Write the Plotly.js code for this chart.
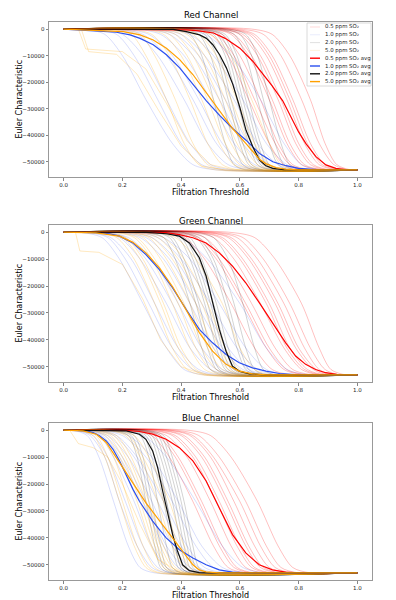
<!DOCTYPE html>
<html>
<head>
<meta charset="utf-8">
<script src="https://cdn.plot.ly/plotly-3.0.1.min.js"></script>
<style>
  html, body { margin: 0; padding: 0; background: #fff; }
  #chart { width: 396px; height: 600px; }
</style>
</head>
<body>
<div id="chart"></div>
<script>
// Euler characteristic curves per colour channel and SO2 concentration

const channelTitles = ['Red Channel', 'Green Channel', 'Blue Channel'];
const concentrations = ['0.5', '1.0', '2.0', '5.0'];

// individual curves: x where each curve reaches these Euler levels
const eulerLevels = [0, -2000, -10000, -26500, -43000, -51000, -53000];
const xTicks = [0, 0.2, 0.4, 0.6, 0.8, 1.0];
const yTicks = [0, -10000, -20000, -30000, -40000, -50000];

// ---- Red channel ----
const red05Faint = [
  [0.42, 0.50, 0.56, 0.63, 0.70, 0.75, 0.82],
  [0.44, 0.52, 0.58, 0.65, 0.72, 0.77, 0.84],
  [0.46, 0.54, 0.60, 0.67, 0.73, 0.78, 0.85],
  [0.50, 0.57, 0.63, 0.70, 0.76, 0.81, 0.88],
  [0.50, 0.58, 0.64, 0.71, 0.77, 0.82, 0.89],
  [0.52, 0.60, 0.66, 0.73, 0.79, 0.84, 0.90],
  [0.53, 0.61, 0.67, 0.74, 0.80, 0.85, 0.91],
  [0.55, 0.63, 0.69, 0.76, 0.82, 0.87, 0.93],
  [0.56, 0.64, 0.70, 0.77, 0.83, 0.88, 0.94],
  [0.58, 0.65, 0.71, 0.78, 0.84, 0.89, 0.95],
  [0.60, 0.68, 0.74, 0.81, 0.87, 0.92, 0.97],
  [0.64, 0.71, 0.77, 0.84, 0.89, 0.93, 0.98]
];
const red10Faint = [
  [0.07, 0.14, 0.20, 0.28, 0.37, 0.44, 0.52],
  [0.10, 0.18, 0.24, 0.32, 0.40, 0.47, 0.55],
  [0.12, 0.20, 0.27, 0.35, 0.43, 0.50, 0.58],
  [0.16, 0.25, 0.32, 0.41, 0.49, 0.56, 0.64],
  [0.18, 0.27, 0.35, 0.44, 0.52, 0.59, 0.66],
  [0.20, 0.29, 0.37, 0.46, 0.54, 0.61, 0.68],
  [0.24, 0.33, 0.41, 0.50, 0.58, 0.65, 0.72],
  [0.26, 0.36, 0.44, 0.53, 0.61, 0.68, 0.75],
  [0.28, 0.38, 0.46, 0.55, 0.63, 0.70, 0.77],
  [0.30, 0.40, 0.48, 0.58, 0.66, 0.73, 0.80],
  [0.33, 0.43, 0.51, 0.61, 0.69, 0.76, 0.83],
  [0.38, 0.48, 0.57, 0.67, 0.75, 0.81, 0.88]
];
const red20Faint = [
  [0.36, 0.43, 0.47, 0.51, 0.55, 0.58, 0.62],
  [0.40, 0.46, 0.50, 0.54, 0.58, 0.61, 0.65],
  [0.42, 0.48, 0.52, 0.56, 0.60, 0.63, 0.67],
  [0.43, 0.49, 0.53, 0.57, 0.61, 0.64, 0.68],
  [0.45, 0.51, 0.55, 0.59, 0.63, 0.66, 0.70],
  [0.46, 0.52, 0.56, 0.60, 0.64, 0.67, 0.71],
  [0.47, 0.53, 0.57, 0.61, 0.65, 0.68, 0.72],
  [0.48, 0.54, 0.58, 0.62, 0.66, 0.69, 0.73],
  [0.49, 0.55, 0.59, 0.63, 0.67, 0.70, 0.74],
  [0.52, 0.58, 0.62, 0.66, 0.70, 0.73, 0.77],
  [0.54, 0.60, 0.64, 0.68, 0.72, 0.75, 0.79],
  [0.56, 0.62, 0.66, 0.70, 0.74, 0.77, 0.81]
];
const red50Faint = [
  [0.15, 0.23, 0.28, 0.35, 0.41, 0.46, 0.52],
  [0.18, 0.26, 0.31, 0.38, 0.44, 0.49, 0.55],
  [0.22, 0.30, 0.36, 0.43, 0.49, 0.54, 0.60],
  [0.26, 0.34, 0.40, 0.47, 0.53, 0.58, 0.64],
  [0.28, 0.36, 0.42, 0.49, 0.55, 0.60, 0.66],
  [0.30, 0.38, 0.44, 0.51, 0.57, 0.62, 0.68],
  [0.32, 0.40, 0.46, 0.53, 0.59, 0.64, 0.70],
  [0.34, 0.42, 0.48, 0.55, 0.61, 0.66, 0.71],
  [0.36, 0.44, 0.50, 0.57, 0.63, 0.68, 0.73],
  [0.38, 0.46, 0.52, 0.59, 0.65, 0.70, 0.75],
  [0.42, 0.50, 0.57, 0.64, 0.70, 0.74, 0.79]
];
const red50OddX = [[0, 0.05, 0.075, 0.2, 0.28, 0.35, 0.42, 0.5, 0.58, 1.0],
                   [0, 0.06, 0.085, 0.18, 0.25, 0.32, 0.4, 0.47, 0.55, 1.0]];
const red50OddY = [[0, 0, -7500, -8500, -15000, -28000, -42000, -51000, -53000, -53000],
                   [0, 0, -8500, -9500, -17000, -30000, -44000, -51500, -53000, -53000]];

const red05AvgX = [0, 0.42, 0.46, 0.51, 0.55, 0.6, 0.644, 0.667, 0.71, 0.746, 0.768, 0.8, 0.825, 0.859, 0.893, 0.927, 0.96, 1.0];
const red05AvgY = [0, -300, -700, -1500, -3500, -7200, -12100, -15200, -21400, -27000, -31900, -38700, -43100, -48000, -51100, -52400, -52900, -53000];
const red10AvgX = [0, 0.124, 0.18, 0.226, 0.26, 0.305, 0.35, 0.395, 0.44, 0.486, 0.531, 0.576, 0.621, 0.667, 0.712, 0.757, 0.8, 0.86, 1.0];
const red10AvgY = [0, -700, -1200, -2200, -3500, -5900, -9650, -14600, -20800, -27000, -32500, -37500, -41800, -46800, -49900, -51400, -52400, -52900, -53000];
const red20AvgX = [0, 0.373, 0.418, 0.463, 0.486, 0.508, 0.531, 0.554, 0.576, 0.6, 0.621, 0.644, 0.667, 0.689, 0.712, 0.75, 1.0];
const red20AvgY = [0, -100, -1000, -2200, -3500, -5900, -9650, -14600, -20800, -29500, -38100, -44300, -49300, -51400, -52400, -52900, -53000];
const red50AvgX = [0, 0.1, 0.203, 0.26, 0.305, 0.35, 0.395, 0.44, 0.486, 0.531, 0.576, 0.621, 0.644, 0.667, 0.69, 0.723, 0.757, 0.8, 1.0];
const red50AvgY = [0, -500, -1000, -2200, -4100, -7200, -11500, -17100, -23900, -30700, -37500, -43100, -46200, -49000, -50700, -52100, -52700, -53000, -53000];

// ---- Green channel ----
const green05Faint = [
  [0.33, 0.41, 0.48, 0.57, 0.65, 0.71, 0.78],
  [0.36, 0.45, 0.52, 0.61, 0.69, 0.75, 0.82],
  [0.38, 0.46, 0.53, 0.62, 0.70, 0.76, 0.83],
  [0.40, 0.48, 0.55, 0.64, 0.72, 0.78, 0.85],
  [0.42, 0.51, 0.58, 0.67, 0.75, 0.81, 0.87],
  [0.44, 0.53, 0.60, 0.69, 0.76, 0.82, 0.88],
  [0.45, 0.54, 0.61, 0.70, 0.77, 0.83, 0.89],
  [0.47, 0.56, 0.63, 0.72, 0.79, 0.85, 0.90],
  [0.48, 0.57, 0.64, 0.73, 0.80, 0.86, 0.91],
  [0.50, 0.59, 0.66, 0.75, 0.82, 0.87, 0.92],
  [0.52, 0.61, 0.68, 0.77, 0.84, 0.89, 0.94],
  [0.56, 0.65, 0.72, 0.81, 0.87, 0.91, 0.96]
];
const green10Faint = [
  [0.05, 0.13, 0.19, 0.27, 0.35, 0.41, 0.48],
  [0.07, 0.15, 0.21, 0.29, 0.37, 0.44, 0.51],
  [0.08, 0.16, 0.23, 0.31, 0.39, 0.46, 0.53],
  [0.11, 0.19, 0.26, 0.35, 0.43, 0.50, 0.57],
  [0.12, 0.21, 0.28, 0.37, 0.45, 0.52, 0.60],
  [0.14, 0.22, 0.30, 0.39, 0.47, 0.54, 0.62],
  [0.17, 0.26, 0.34, 0.43, 0.51, 0.58, 0.66],
  [0.19, 0.28, 0.36, 0.45, 0.54, 0.61, 0.69],
  [0.21, 0.30, 0.38, 0.47, 0.56, 0.63, 0.71],
  [0.23, 0.32, 0.40, 0.50, 0.59, 0.66, 0.74],
  [0.25, 0.34, 0.43, 0.53, 0.62, 0.69, 0.77],
  [0.30, 0.40, 0.49, 0.60, 0.69, 0.76, 0.84]
];
const green20Faint = [
  [0.28, 0.34, 0.38, 0.43, 0.47, 0.50, 0.54],
  [0.30, 0.36, 0.40, 0.45, 0.49, 0.52, 0.56],
  [0.31, 0.37, 0.41, 0.46, 0.50, 0.53, 0.57],
  [0.33, 0.39, 0.43, 0.48, 0.52, 0.55, 0.59],
  [0.34, 0.40, 0.44, 0.49, 0.53, 0.56, 0.60],
  [0.35, 0.41, 0.45, 0.50, 0.54, 0.57, 0.61],
  [0.36, 0.42, 0.46, 0.51, 0.55, 0.58, 0.62],
  [0.37, 0.43, 0.47, 0.52, 0.56, 0.59, 0.63],
  [0.39, 0.45, 0.50, 0.55, 0.59, 0.62, 0.66],
  [0.40, 0.46, 0.51, 0.56, 0.60, 0.63, 0.67],
  [0.42, 0.48, 0.53, 0.58, 0.62, 0.65, 0.69],
  [0.45, 0.51, 0.56, 0.61, 0.65, 0.68, 0.72]
];
const green50Faint = [
  [0.10, 0.18, 0.24, 0.31, 0.37, 0.42, 0.47],
  [0.12, 0.20, 0.26, 0.33, 0.39, 0.44, 0.49],
  [0.13, 0.21, 0.27, 0.34, 0.40, 0.45, 0.50],
  [0.16, 0.24, 0.30, 0.37, 0.43, 0.48, 0.54],
  [0.17, 0.25, 0.31, 0.39, 0.45, 0.50, 0.56],
  [0.19, 0.27, 0.33, 0.41, 0.47, 0.52, 0.58],
  [0.21, 0.29, 0.35, 0.43, 0.49, 0.54, 0.60],
  [0.22, 0.30, 0.37, 0.45, 0.51, 0.56, 0.62],
  [0.24, 0.32, 0.39, 0.47, 0.53, 0.58, 0.64],
  [0.26, 0.34, 0.41, 0.49, 0.55, 0.60, 0.66],
  [0.30, 0.38, 0.45, 0.54, 0.60, 0.65, 0.71]
];
const green50OddX = [[0, 0.04, 0.055, 0.12, 0.2, 0.27, 0.33, 0.4, 0.48, 1.0]];
const green50OddY = [[0, 0, -7000, -7500, -12000, -25000, -40000, -50000, -53000, -53000]];

const green05AvgX = [0, 0.349, 0.394, 0.44, 0.485, 0.53, 0.575, 0.62, 0.666, 0.711, 0.756, 0.79, 0.824, 0.858, 0.892, 0.93, 1.0];
const green05AvgY = [0, -200, -900, -2100, -4000, -7700, -12600, -18800, -26200, -33700, -41100, -46000, -49100, -51000, -52200, -52800, -53000];
const green10AvgX = [0, 0.11, 0.156, 0.19, 0.235, 0.28, 0.326, 0.371, 0.417, 0.462, 0.507, 0.553, 0.598, 0.643, 0.689, 0.735, 0.8, 1.0];
const green10AvgY = [0, -200, -600, -1500, -4000, -8300, -13900, -20700, -28700, -36100, -41100, -45400, -48500, -50400, -51600, -52500, -53000, -53000];
const green20AvgX = [0, 0.28, 0.35, 0.394, 0.428, 0.462, 0.485, 0.507, 0.53, 0.553, 0.575, 0.598, 0.632, 0.689, 1.0];
const green20AvgY = [0, -100, -600, -1500, -4000, -9500, -16300, -26200, -36100, -44200, -49800, -51600, -52600, -53000, -53000];
const green50AvgX = [0, 0.11, 0.19, 0.235, 0.28, 0.326, 0.371, 0.417, 0.462, 0.507, 0.553, 0.598, 0.643, 0.689, 1.0];
const green50AvgY = [0, -300, -1500, -3700, -7700, -13300, -20300, -28700, -37300, -44200, -49100, -51600, -52600, -53000, -53000];

// ---- Blue channel ----
const blue05Faint = [
  [0.22, 0.30, 0.36, 0.44, 0.51, 0.56, 0.62],
  [0.24, 0.32, 0.38, 0.46, 0.53, 0.58, 0.64],
  [0.25, 0.33, 0.39, 0.47, 0.54, 0.59, 0.65],
  [0.27, 0.35, 0.42, 0.50, 0.57, 0.62, 0.68],
  [0.29, 0.37, 0.44, 0.52, 0.59, 0.64, 0.70],
  [0.30, 0.38, 0.45, 0.53, 0.60, 0.65, 0.71],
  [0.32, 0.40, 0.47, 0.55, 0.62, 0.67, 0.73],
  [0.33, 0.41, 0.48, 0.56, 0.63, 0.68, 0.74],
  [0.35, 0.43, 0.50, 0.58, 0.65, 0.70, 0.76],
  [0.36, 0.44, 0.51, 0.60, 0.67, 0.72, 0.78],
  [0.38, 0.46, 0.53, 0.62, 0.69, 0.74, 0.80],
  [0.42, 0.50, 0.57, 0.66, 0.73, 0.78, 0.84]
];
const blue10Faint = [
  [0.03, 0.08, 0.12, 0.17, 0.22, 0.26, 0.31],
  [0.04, 0.09, 0.14, 0.19, 0.25, 0.30, 0.35],
  [0.04, 0.10, 0.15, 0.21, 0.27, 0.32, 0.37],
  [0.05, 0.12, 0.17, 0.24, 0.30, 0.35, 0.41],
  [0.06, 0.13, 0.19, 0.27, 0.34, 0.39, 0.45],
  [0.07, 0.14, 0.20, 0.28, 0.35, 0.41, 0.47],
  [0.08, 0.15, 0.22, 0.30, 0.37, 0.43, 0.49],
  [0.09, 0.17, 0.24, 0.32, 0.40, 0.46, 0.52],
  [0.10, 0.18, 0.25, 0.34, 0.42, 0.48, 0.55],
  [0.12, 0.20, 0.28, 0.37, 0.45, 0.51, 0.58],
  [0.13, 0.22, 0.30, 0.39, 0.47, 0.54, 0.61],
  [0.17, 0.27, 0.35, 0.45, 0.54, 0.61, 0.68]
];
const blue20Faint = [
  [0.16, 0.22, 0.25, 0.28, 0.31, 0.33, 0.36],
  [0.17, 0.23, 0.26, 0.29, 0.32, 0.34, 0.37],
  [0.18, 0.24, 0.27, 0.30, 0.33, 0.35, 0.38],
  [0.20, 0.26, 0.29, 0.32, 0.35, 0.37, 0.40],
  [0.21, 0.27, 0.30, 0.34, 0.37, 0.39, 0.42],
  [0.22, 0.28, 0.31, 0.35, 0.38, 0.40, 0.43],
  [0.23, 0.29, 0.32, 0.35, 0.38, 0.40, 0.43],
  [0.24, 0.30, 0.33, 0.37, 0.40, 0.42, 0.45],
  [0.25, 0.31, 0.34, 0.38, 0.41, 0.43, 0.46],
  [0.26, 0.32, 0.35, 0.39, 0.42, 0.44, 0.47],
  [0.27, 0.33, 0.36, 0.40, 0.43, 0.45, 0.48],
  [0.28, 0.34, 0.37, 0.41, 0.44, 0.46, 0.49]
];
const blue50Faint = [
  [0.04, 0.10, 0.14, 0.19, 0.24, 0.28, 0.32],
  [0.05, 0.11, 0.15, 0.20, 0.25, 0.29, 0.33],
  [0.06, 0.12, 0.17, 0.22, 0.27, 0.31, 0.35],
  [0.08, 0.14, 0.19, 0.25, 0.30, 0.34, 0.38],
  [0.09, 0.15, 0.20, 0.26, 0.31, 0.35, 0.39],
  [0.10, 0.16, 0.21, 0.27, 0.32, 0.36, 0.40],
  [0.11, 0.17, 0.22, 0.28, 0.33, 0.37, 0.41],
  [0.12, 0.18, 0.23, 0.29, 0.34, 0.38, 0.42],
  [0.14, 0.21, 0.26, 0.32, 0.37, 0.41, 0.45],
  [0.15, 0.22, 0.27, 0.34, 0.39, 0.43, 0.47],
  [0.17, 0.24, 0.29, 0.36, 0.41, 0.45, 0.49]
];
const blue50OddX = [[0, 0.02, 0.05, 0.1, 0.15, 0.2, 0.26, 0.32, 0.4, 1.0]];
const blue50OddY = [[0, 0, -5000, -6500, -10000, -20000, -35000, -48000, -53000, -53000]];

const blue05AvgX = [0, 0.213, 0.258, 0.303, 0.349, 0.394, 0.44, 0.485, 0.53, 0.575, 0.62, 0.666, 0.711, 0.756, 0.8, 1.0];
const blue05AvgY = [0, -100, -500, -1500, -3400, -6500, -11400, -18900, -28900, -38800, -45600, -50000, -51900, -52700, -53000, -53000];
const blue10AvgX = [0, 0.043, 0.077, 0.1, 0.122, 0.145, 0.168, 0.19, 0.213, 0.236, 0.258, 0.28, 0.303, 0.326, 0.349, 0.394, 0.44, 0.485, 0.53, 0.575, 0.63, 1.0];
const blue10AvgY = [0, -100, -300, -900, -2100, -4000, -7100, -11400, -17000, -22000, -26400, -30100, -33800, -36900, -40000, -44400, -47500, -50000, -51900, -52700, -53000, -53000];
const blue20AvgX = [0, 0.213, 0.258, 0.28, 0.303, 0.32, 0.337, 0.354, 0.371, 0.388, 0.405, 0.428, 0.462, 0.5, 1.0];
const blue20AvgY = [0, -300, -1500, -3400, -7700, -13900, -22600, -31300, -38800, -45000, -50000, -52200, -52900, -53000, -53000];
const blue50AvgX = [0, 0.066, 0.111, 0.145, 0.179, 0.213, 0.247, 0.28, 0.315, 0.349, 0.383, 0.417, 0.44, 0.462, 0.485, 0.53, 1.0];
const blue50AvgY = [0, -300, -1500, -4600, -10200, -15800, -21400, -27000, -32000, -36900, -41900, -46900, -50000, -51900, -52600, -53000, -53000];

const faintColors = ['rgba(255,0,0,0.28)', 'rgba(40,70,240,0.2)', 'rgba(0,0,0,0.2)', 'rgba(255,165,0,0.28)'];
const legendFaintColors = ['rgba(255,0,0,0.15)', 'rgba(40,70,240,0.1)', 'rgba(0,0,0,0.12)', 'rgba(255,165,0,0.15)'];
const avgColors = ['#ff0000', '#2a4ff0', '#111111', '#ffa000'];

const panels = [
  { faint: [red05Faint, red10Faint, red20Faint, red50Faint], oddX: red50OddX, oddY: red50OddY,
    avgX: [red05AvgX, red10AvgX, red20AvgX, red50AvgX], avgY: [red05AvgY, red10AvgY, red20AvgY, red50AvgY] },
  { faint: [green05Faint, green10Faint, green20Faint, green50Faint], oddX: green50OddX, oddY: green50OddY,
    avgX: [green05AvgX, green10AvgX, green20AvgX, green50AvgX], avgY: [green05AvgY, green10AvgY, green20AvgY, green50AvgY] },
  { faint: [blue05Faint, blue10Faint, blue20Faint, blue50Faint], oddX: blue50OddX, oddY: blue50OddY,
    avgX: [blue05AvgX, blue10AvgX, blue20AvgX, blue50AvgX], avgY: [blue05AvgY, blue10AvgY, blue20AvgY, blue50AvgY] }
];

// pixel -> paper helpers (plot area spans x 49..372, y 20..580)
const px = v => (v - 49) / 323;
const py = v => (580 - v) / 560;

const domains = [[py(177), py(22)], [py(382), py(225)], [py(580), py(423)]];
const titleY = [15.5, 221, 417.5];

const traces = [];
panels.forEach((p, i) => {
  const xa = i === 0 ? 'x' : 'x' + (i + 1);
  const ya = i === 0 ? 'y' : 'y' + (i + 1);
  p.faint.forEach((curves, g) => {
    curves.forEach(c => {
      traces.push({
        x: [0].concat(c, [1.0]), y: [0].concat(eulerLevels, [-53000]),
        xaxis: xa, yaxis: ya, mode: 'lines', showlegend: false, hoverinfo: 'skip',
        line: { color: faintColors[g], width: 0.9, shape: 'spline', smoothing: 0.8 }
      });
    });
    if (g === 3) {
      p.oddX.forEach((ox, k) => {
        traces.push({
          x: ox, y: p.oddY[k], xaxis: xa, yaxis: ya, mode: 'lines', showlegend: false, hoverinfo: 'skip',
          line: { color: faintColors[3], width: 0.9 }
        });
      });
    }
  });
  p.avgX.forEach((ax, g) => {
    traces.push({
      x: ax, y: p.avgY[g], xaxis: xa, yaxis: ya, mode: 'lines', showlegend: false,
      line: { color: avgColors[g], width: 1.2 }
    });
  });
});

const baseFont = { family: 'DejaVu Sans, sans-serif', color: '#222' };

function makeX(i) {
  return {
    domain: [0, 1], anchor: i === 0 ? 'y' : 'y' + (i + 1),
    range: [-0.05, 1.05], tickvals: xTicks, ticktext: xTicks.map(v => v.toFixed(1)),
    showline: true, mirror: true, linecolor: '#999', linewidth: 1,
    ticks: 'outside', ticklen: 2.5, tickcolor: '#666', tickwidth: 0.8,
    tickfont: { ...baseFont, size: 5.5 }, showgrid: false, zeroline: false,
    title: { text: 'Filtration Threshold', font: { ...baseFont, size: 8, color: '#000' }, standoff: 1 }
  };
}
function makeY(i) {
  return {
    domain: domains[i], anchor: i === 0 ? 'x' : 'x' + (i + 1),
    range: [-55650, 2650], tickvals: yTicks,
    ticktext: yTicks.map(v => v === 0 ? '0' : '\u2212' + Math.abs(v)),
    showline: true, mirror: true, linecolor: '#999', linewidth: 1,
    ticks: 'outside', ticklen: 2.5, tickcolor: '#666', tickwidth: 0.8,
    tickfont: { ...baseFont, size: 5.5 }, showgrid: false, zeroline: false
  };
}

const annotations = [];
channelTitles.forEach((t, i) => {
  annotations.push({
    text: t, xref: 'paper', yref: 'paper', x: 0.5, y: py(titleY[i]),
    xanchor: 'center', yanchor: 'middle', showarrow: false,
    font: { ...baseFont, size: 8.6, color: '#000' }
  });
  annotations.push({
    text: 'Euler Characteristic', xref: 'paper', yref: 'paper', textangle: -90,
    x: px(19), y: (domains[i][0] + domains[i][1]) / 2,
    xanchor: 'center', yanchor: 'middle', showarrow: false,
    font: { ...baseFont, size: 8, color: '#000' }
  });
});

// hand-built legend in the top-right corner of the first panel
const shapes = [{
  type: 'rect', xref: 'paper', yref: 'paper',
  x0: px(307), x1: px(371), y0: py(86), y1: py(23),
  line: { color: '#d0d0d0', width: 0.8 }, fillcolor: 'rgba(255,255,255,0.85)'
}];
const legendLabels = concentrations.map(c => c + ' ppm SO\u2082')
  .concat(concentrations.map(c => c + ' ppm SO\u2082 avg'));
const legendColors = legendFaintColors.concat(avgColors);
legendLabels.forEach((lab, k) => {
  const rowY = 27 + k * 7.8;
  shapes.push({
    type: 'line', xref: 'paper', yref: 'paper',
    x0: px(310), x1: px(320), y0: py(rowY), y1: py(rowY),
    line: { color: legendColors[k], width: k < 4 ? 1 : 1.4 }
  });
  annotations.push({
    text: lab, xref: 'paper', yref: 'paper', x: px(323), y: py(rowY),
    xanchor: 'left', yanchor: 'middle', showarrow: false,
    font: { ...baseFont, size: 5.4, color: '#222' }
  });
});

const layout = {
  width: 396, height: 600,
  margin: { l: 49, r: 24, t: 20, b: 20 },
  paper_bgcolor: '#fff', plot_bgcolor: '#fff',
  font: baseFont,
  showlegend: false,
  xaxis: makeX(0), yaxis: makeY(0),
  xaxis2: makeX(1), yaxis2: makeY(1),
  xaxis3: makeX(2), yaxis3: makeY(2),
  annotations: annotations,
  shapes: shapes
};

Plotly.newPlot('chart', traces, layout, { displayModeBar: false, staticPlot: true });
</script>
</body>
</html>
